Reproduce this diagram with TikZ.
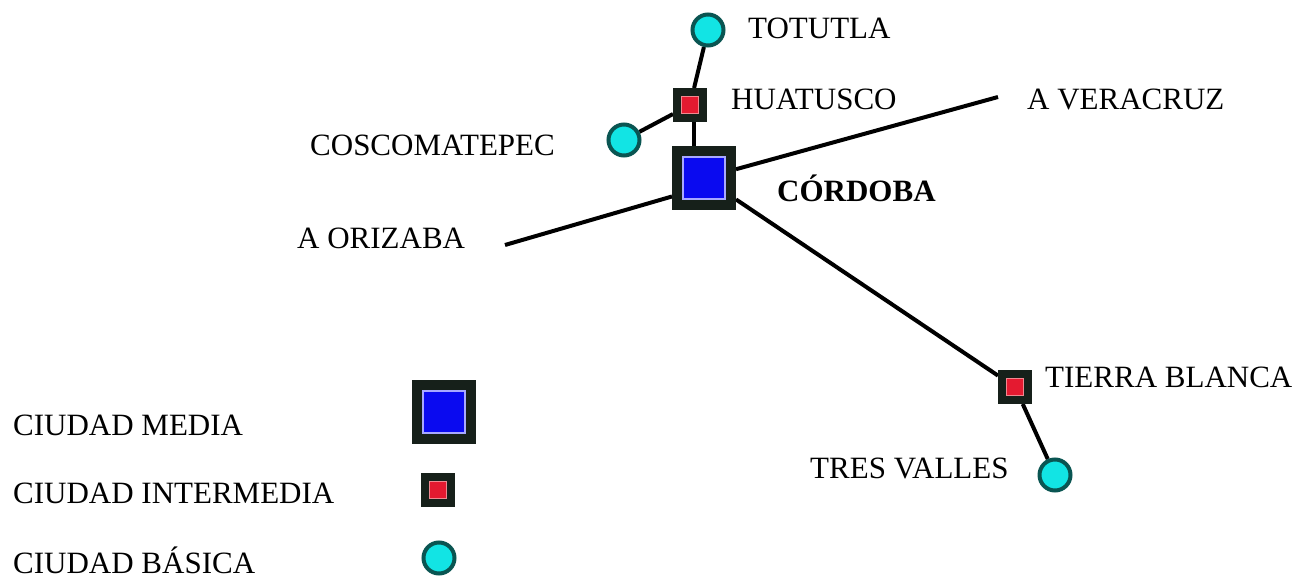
\documentclass[tikz,border=0pt]{standalone}
\usepackage{fontspec}
\setmainfont{Liberation Serif}
\usetikzlibrary{backgrounds}
\definecolor{framedark}{HTML}{16201A}
\definecolor{cityblue}{HTML}{0A0AF0}
\definecolor{bluerim}{HTML}{A8A8FF}
\definecolor{cityred}{HTML}{E41A30}
\definecolor{redrim}{HTML}{F08890}
\definecolor{citycyan}{HTML}{12E4E4}
\definecolor{cyanrim}{HTML}{0A5552}
\begin{document}
\begin{tikzpicture}[x=1pt,y=-1pt,
  lbl/.style={anchor=base west, inner sep=0pt, font=\fontsize{31}{31}\selectfont},
  media/.style={rectangle, draw=framedark, line width=10pt, fill=cityblue,
    minimum size=54pt, inner sep=0pt,
    path picture={\draw[bluerim, line width=1.6pt]
      ([xshift=6pt,yshift=-6pt]path picture bounding box.north west) rectangle
      ([xshift=-6pt,yshift=6pt]path picture bounding box.south east);}},
  inter/.style={rectangle, draw=framedark, line width=8pt, fill=cityred,
    minimum size=26pt, inner sep=0pt,
    path picture={\draw[redrim, line width=1.2pt]
      ([xshift=4.5pt,yshift=-4.5pt]path picture bounding box.north west) rectangle
      ([xshift=-4.5pt,yshift=4.5pt]path picture bounding box.south east);}},
  basica/.style={circle, draw=cyanrim, line width=4pt, fill=citycyan,
    minimum size=31pt, inner sep=0pt},
  road/.style={line width=4pt, black}
]
\useasboundingbox (0,0) rectangle (1296,580);

% cities of the network
\node[basica] (totutla) at (708,30) {};
\node[inter] (huatusco) at (690,105) {};
\node[basica] (coscomatepec) at (624,140) {};
\node[media] (cordoba) at (704,178) {};
\node[inter] (tierrablanca) at (1015,387) {};
\node[basica] (tresvalles) at (1055,475) {};
\coordinate (orizaba) at (505,245);
\coordinate (veracruz) at (998,97);

% white sheet and roads between the cities, behind the symbols
\begin{scope}[on background layer]
  \fill[white] (0,0) rectangle (1296,580);
  \draw[road] (totutla) -- (huatusco);
  \draw[road] (huatusco) -- (coscomatepec);
  \draw[road] ([xshift=4pt]huatusco.south) -- ([xshift=4pt]huatusco.south |- cordoba.north);
  \draw[road] (orizaba) -- (cordoba.210);
  \draw[road] (cordoba) -- (veracruz);
  \draw[road] (cordoba) -- (tierrablanca);
  \draw[road] (tierrablanca) -- (tresvalles);
\end{scope}

% city names
\node[lbl] (ltotutla) at (748,39) {TOTUTLA};
\node[lbl] (lhuatusco) at (731,110) {HUATUSCO};
\node[lbl] (lveracruz) at (1027,110) {A VERACRUZ};
\node[lbl] (lcoscomatepec) at (310,156) {COSCOMATEPEC};
\node[lbl, font=\fontsize{31}{31}\selectfont\bfseries] (lcordoba) at (777,202) {CÓRDOBA};
\node[lbl] (lorizaba) at (297,248) {A ORIZABA};
\node[lbl] (ltierrablanca) at (1045,387) {TIERRA BLANCA};
\node[lbl] (ltresvalles) at (810,478) {TRES VALLES};

% legend
\node[media] (legmedia) at (444,412) {};
\node[inter] (leginter) at (438,490) {};
\node[basica] (legbasica) at (439,558) {};
\node[lbl] (lmedia) at (13,435) {CIUDAD MEDIA};
\node[lbl] (linter) at (13,503) {CIUDAD INTERMEDIA};
\node[lbl] (lbasica) at (13,573) {CIUDAD BÁSICA};
\end{tikzpicture}
\end{document}
